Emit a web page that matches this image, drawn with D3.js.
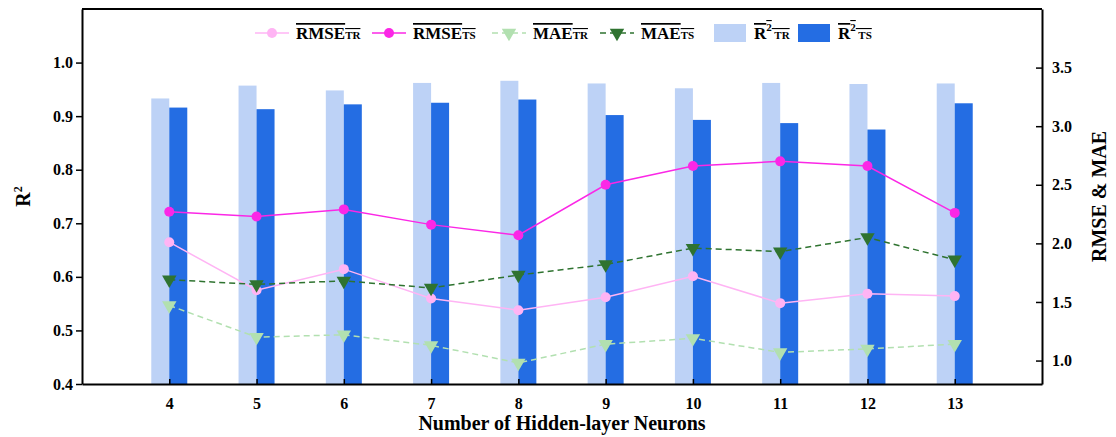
<!DOCTYPE html>
<html>
<head>
<meta charset="utf-8">
<script src="https://cdn.jsdelivr.net/npm/d3@7"></script>
<style>
    body { margin: 0; background: #fff; }
    svg { font-family: 'Liberation Serif', 'Times New Roman', serif; font-weight: bold; }
</style>
</head>
<body>
<svg></svg>
<script>
const NEURONS = [4, 5, 6, 7, 8, 9, 10, 11, 12, 13];
const R2_TR = [0.933, 0.957, 0.948, 0.962, 0.966, 0.961, 0.952, 0.962, 0.960, 0.961];
const R2_TS = [0.916, 0.913, 0.922, 0.925, 0.931, 0.902, 0.893, 0.887, 0.875, 0.924];
const RMSE_TR = [2.01, 1.60, 1.78, 1.53, 1.43, 1.54, 1.72, 1.49, 1.57, 1.55];
const RMSE_TS = [2.27, 2.23, 2.29, 2.16, 2.07, 2.50, 2.66, 2.70, 2.66, 2.26];
const MAE_TR = [1.47, 1.20, 1.22, 1.13, 0.98, 1.14, 1.19, 1.07, 1.10, 1.14];
const MAE_TS = [1.69, 1.65, 1.68, 1.62, 1.73, 1.82, 1.96, 1.93, 2.05, 1.86];
const R2_TICKS = [0.4, 0.5, 0.6, 0.7, 0.8, 0.9, 1.0];
const ERR_TICKS = [1.0, 1.5, 2.0, 2.5, 3.0, 3.5];

const WIDTH = 1116;
const HEIGHT = 437;
const MARGINS = { left: 82, right: 74, top: 9, bottom: 53 };
const CHART_W = WIDTH - MARGINS.left - MARGINS.right;
const CHART_H = HEIGHT - MARGINS.top - MARGINS.bottom;
const BAR_W = 18;

const C = {
    r2tr: '#bdd2f6', r2ts: '#246de3',
    rmseTr: '#ffb4f4', rmseTs: '#fb27e6',
    maeTr: '#b2e0b0', maeTs: '#2f7330'
};

const x = d3.scaleLinear().domain([3, 14]).range([0, CHART_W]);
const yL = d3.scaleLinear().domain([0.4, 1.1]).range([CHART_H, 0]);
const yR = d3.scaleLinear().domain([0.8, 4.0]).range([CHART_H, 0]);

const svg = d3.select('svg').attr('width', WIDTH).attr('height', HEIGHT);
const chart = svg.append('g').attr('transform', `translate(${MARGINS.left}, ${MARGINS.top})`);

// bars
const barData = NEURONS.map((n, i) => ({ n, tr: R2_TR[i], ts: R2_TS[i] }));
chart.selectAll('.bar-tr').data(barData).enter().append('rect')
    .attr('x', d => x(d.n) - BAR_W).attr('width', BAR_W)
    .attr('y', d => yL(d.tr)).attr('height', d => CHART_H - yL(d.tr))
    .attr('fill', C.r2tr);
chart.selectAll('.bar-ts').data(barData).enter().append('rect')
    .attr('x', d => x(d.n)).attr('width', BAR_W)
    .attr('y', d => yL(d.ts)).attr('height', d => CHART_H - yL(d.ts))
    .attr('fill', C.r2ts);

// lines
const tri = d3.symbol().type(d3.symbolTriangle).size(90);
function drawSeries(vals, color, dash, marker) {
    const pts = NEURONS.map((n, i) => [x(n), yR(vals[i])]);
    chart.append('path').attr('d', d3.line()(pts))
        .attr('fill', 'none').attr('stroke', color).attr('stroke-width', 1.5)
        .attr('stroke-dasharray', dash);
    if (marker === 'circle') {
        chart.selectAll(null).data(pts).enter().append('circle')
            .attr('cx', d => d[0]).attr('cy', d => d[1]).attr('r', 5).attr('fill', color);
    } else {
        chart.selectAll(null).data(pts).enter().append('path')
            .attr('d', tri).attr('fill', color)
            .attr('transform', d => `translate(${d[0]}, ${d[1]}) rotate(180)`);
    }
}
drawSeries(RMSE_TR, C.rmseTr, null, 'circle');
drawSeries(RMSE_TS, C.rmseTs, null, 'circle');
drawSeries(MAE_TR, C.maeTr, '6,4', 'tri');
drawSeries(MAE_TS, C.maeTs, '6,4', 'tri');

// axes
const axL = chart.append('g')
    .call(d3.axisLeft(yL).tickValues(R2_TICKS).tickFormat(d3.format('.1f')).tickSize(6).tickSizeOuter(0));
const axR = chart.append('g').attr('transform', `translate(${CHART_W}, 0)`)
    .call(d3.axisRight(yR).tickValues(ERR_TICKS).tickFormat(d3.format('.1f')).tickSize(-6).tickSizeOuter(0));
axR.selectAll('text').attr('x', 10);
const axB = chart.append('g').attr('transform', `translate(0, ${CHART_H})`)
    .call(d3.axisBottom(x).tickValues(NEURONS).tickFormat(d3.format('d')).tickSize(-5).tickSizeOuter(0));
axB.selectAll('text').attr('y', 14);
chart.append('line').attr('x1', 0).attr('x2', CHART_W).attr('y1', 0).attr('y2', 0)
    .attr('stroke', '#000').attr('stroke-width', 2);
[axL, axR, axB].forEach(a => {
    a.attr('font-family', null).attr('font-size', 16);
    a.selectAll('.domain').attr('stroke-width', 2);
    a.selectAll('.tick line').attr('stroke-width', 1.5);
    a.selectAll('text').attr('fill', '#000');
});

// axis titles
svg.append('text').attr('x', MARGINS.left + CHART_W / 2).attr('y', 430)
    .attr('text-anchor', 'middle').attr('font-size', 20).text('Number of Hidden-layer Neurons');
const lt = svg.append('text').attr('transform', `translate(30, ${MARGINS.top + CHART_H / 2}) rotate(-90)`)
    .attr('text-anchor', 'middle').attr('font-size', 20);
lt.append('tspan').text('R');
lt.append('tspan').attr('font-size', 12).attr('dy', -8).text('2');
svg.append('text').attr('transform', `translate(1106, ${MARGINS.top + CHART_H / 2}) rotate(-90)`)
    .attr('text-anchor', 'middle').attr('font-size', 20).text('RMSE & MAE');

// legend
const LEGEND = [
    { main: 'RMSE', sub: 'TR', color: C.rmseTr, kind: 'circle', x0: 255 },
    { main: 'RMSE', sub: 'TS', color: C.rmseTs, kind: 'circle', x0: 372 },
    { main: 'MAE', sub: 'TR', color: C.maeTr, kind: 'tri', x0: 492 },
    { main: 'MAE', sub: 'TS', color: C.maeTs, kind: 'tri', x0: 600 },
    { main: 'R', sub: 'TR', color: C.r2tr, kind: 'rect', x0: 714 },
    { main: 'R', sub: 'TS', color: C.r2ts, kind: 'rect', x0: 798 }
];
const ly = 33;
LEGEND.forEach(d => {
    const g = svg.append('g');
    if (d.kind === 'rect') {
        g.append('rect').attr('x', d.x0).attr('y', ly - 9).attr('width', 32).attr('height', 18).attr('fill', d.color);
    } else {
        g.append('line').attr('x1', d.x0).attr('x2', d.x0 + 34).attr('y1', ly).attr('y2', ly)
            .attr('stroke', d.color).attr('stroke-width', 1.5)
            .attr('stroke-dasharray', d.kind === 'tri' ? '6,4' : null);
        if (d.kind === 'circle') {
            g.append('circle').attr('cx', d.x0 + 17).attr('cy', ly).attr('r', 5).attr('fill', d.color);
        } else {
            g.append('path').attr('d', tri).attr('fill', d.color)
                .attr('transform', `translate(${d.x0 + 17}, ${ly}) rotate(180)`);
        }
    }
    const tx = d.x0 + (d.kind === 'rect' ? 40 : 41);
    const t = g.append('text').attr('x', tx).attr('y', ly + 6).attr('font-size', 17)
        .attr('text-decoration', 'overline');
    t.append('tspan').text(d.main);
    if (d.kind === 'rect') {
        t.append('tspan').attr('font-size', 11).attr('dy', -8).text('2');
        t.append('tspan').attr('font-size', 11).attr('dy', 8).text(' ' + d.sub);
    } else {
        t.append('tspan').attr('font-size', 11).text(d.sub);
    }
});
</script>
</body>
</html>
